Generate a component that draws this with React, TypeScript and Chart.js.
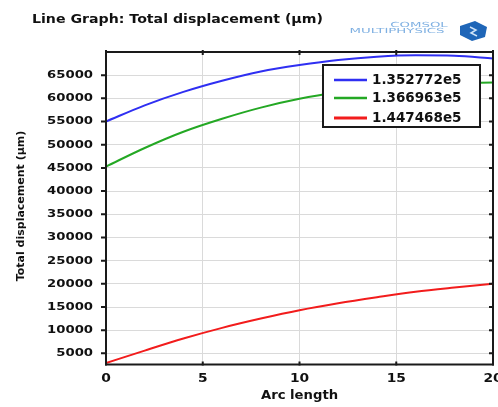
import React, { useEffect, useRef } from 'react';
import { Chart, registerables } from 'chart.js';

Chart.register(...registerables);

const arcLength = [0, 2, 4, 6, 8, 10, 12, 14, 16, 18, 20];
const series1 = [55000, 58500, 61400, 63800, 65800, 67200, 68300, 69000, 69300, 69200, 68600];
const series2 = [45300, 49300, 52800, 55600, 58000, 59900, 61300, 62300, 62900, 63300, 63400];
const series3 = [2900, 5600, 8200, 10500, 12500, 14300, 15800, 17100, 18300, 19200, 20000];
const seriesLabels = ['1.352772e5', '1.366963e5', '1.447468e5'];
const seriesColors = ['#2f2ff2', '#24a824', '#f21c1c'];
const yTicks = [5000, 10000, 15000, 20000, 25000, 30000, 35000, 40000, 45000, 50000, 55000, 60000, 65000];
const xTicks = [0, 5, 10, 15, 20];
const titleText = 'Line Graph: Total displacement (µm)';
const xTitle = 'Arc length';
const yTitle = 'Total displacement (µm)';
const logoTop = 'COMSOL';
const logoBottom = 'MULTIPHYSICS';

const FONT = '"DejaVu Sans", Verdana, sans-serif';

function drawText(
  ctx: CanvasRenderingContext2D,
  text: string,
  x: number,
  y: number,
  opts: { size: number; bold?: boolean; align?: CanvasTextAlign; sx?: number; color?: string; rot?: number }
) {
  ctx.save();
  ctx.translate(x, y);
  if (opts.rot) ctx.rotate(opts.rot);
  ctx.scale(opts.sx ?? 1, 1);
  ctx.font = `${opts.bold ? 'bold ' : ''}${opts.size}px ${FONT}`;
  ctx.textAlign = opts.align ?? 'left';
  ctx.textBaseline = 'middle';
  ctx.fillStyle = opts.color ?? '#111';
  ctx.fillText(text, 0, 0);
  ctx.restore();
}

const decorPlugin = {
  id: 'decor',
  beforeDraw(chart: any) {
    const ctx = chart.ctx as CanvasRenderingContext2D;
    ctx.save();
    ctx.fillStyle = '#ffffff';
    ctx.fillRect(0, 0, chart.width, chart.height);
    ctx.restore();
  },
  afterDraw(chart: any) {
    const ctx = chart.ctx as CanvasRenderingContext2D;
    const a = chart.chartArea;
    const xs = chart.scales.x;
    const ys = chart.scales.y;

    // frame
    ctx.save();
    ctx.strokeStyle = '#1a1a1a';
    ctx.lineWidth = 2;
    ctx.strokeRect(a.left, a.top, a.right - a.left, a.bottom - a.top);

    // ticks
    ctx.lineWidth = 2;
    ctx.beginPath();
    yTicks.forEach((v) => {
      const py = ys.getPixelForValue(v);
      ctx.moveTo(a.left - 5, py);
      ctx.lineTo(a.left, py);
      ctx.moveTo(a.right - 4, py);
      ctx.lineTo(a.right + 1, py);
    });
    xTicks.forEach((v) => {
      const px = xs.getPixelForValue(v);
      ctx.moveTo(px, a.top - 2);
      ctx.lineTo(px, a.top + 3);
      ctx.moveTo(px, a.bottom - 3);
      ctx.lineTo(px, a.bottom + 1);
    });
    ctx.stroke();
    ctx.restore();

    // tick labels
    yTicks.forEach((v) => {
      drawText(ctx, String(v), a.left - 13, ys.getPixelForValue(v), { size: 11, bold: true, align: 'right', sx: 1.2 });
    });
    xTicks.forEach((v) => {
      drawText(ctx, String(v), xs.getPixelForValue(v), a.bottom + 14, { size: 12, bold: true, align: 'center', sx: 1.15 });
    });

    // axis titles
    drawText(ctx, xTitle, (a.left + a.right) / 2, 396, { size: 12, bold: true, align: 'center', sx: 1.1 });
    drawText(ctx, yTitle, 21, 206, { size: 11, bold: true, align: 'center', rot: -Math.PI / 2 });

    // title
    drawText(ctx, titleText, 32, 20, { size: 11.5, bold: true, align: 'left', sx: 1.23 });

    // logo
    drawText(ctx, logoTop, 419, 25, { size: 7, align: 'center', sx: 1.9, color: '#7fb0e2' });
    drawText(ctx, logoBottom, 397, 31, { size: 7, align: 'center', sx: 1.9, color: '#7fb0e2' });
    ctx.save();
    ctx.fillStyle = '#1f66b8';
    ctx.beginPath();
    ctx.moveTo(460, 26);
    ctx.lineTo(475, 21);
    ctx.lineTo(487, 27);
    ctx.lineTo(485, 37);
    ctx.lineTo(472, 41);
    ctx.lineTo(460, 35);
    ctx.closePath();
    ctx.fill();
    ctx.strokeStyle = '#cfe3f7';
    ctx.lineWidth = 1.5;
    ctx.beginPath();
    ctx.moveTo(470, 27);
    ctx.lineTo(476, 30);
    ctx.lineTo(471, 33);
    ctx.lineTo(477, 36);
    ctx.stroke();
    ctx.restore();

    // legend
    const lx = 323, ly = 65, lw = 157, lh = 62;
    ctx.save();
    ctx.fillStyle = '#ffffff';
    ctx.fillRect(lx, ly, lw, lh);
    ctx.strokeStyle = '#1a1a1a';
    ctx.lineWidth = 2;
    ctx.strokeRect(lx, ly, lw, lh);
    const rows = [80, 98, 118];
    seriesLabels.forEach((lab, i) => {
      ctx.strokeStyle = seriesColors[i];
      ctx.lineWidth = i === 2 ? 3 : 2.5;
      ctx.beginPath();
      ctx.moveTo(334, rows[i]);
      ctx.lineTo(367, rows[i]);
      ctx.stroke();
      drawText(ctx, lab, 372, rows[i], { size: 13.5, bold: true, align: 'left', sx: 1.0 });
    });
    ctx.restore();
  },
};

export default function App() {
  const ref = useRef<HTMLCanvasElement | null>(null);
  useEffect(() => {
    if (!ref.current) return;
    const mk = (vals: number[]) => arcLength.map((x, i) => ({ x, y: vals[i] }));
    const chart = new Chart(ref.current, {
      type: 'line',
      data: {
        datasets: [series1, series2, series3].map((vals, i) => ({
          label: seriesLabels[i],
          data: mk(vals),
          borderColor: seriesColors[i],
          borderWidth: 2,
          pointRadius: 0,
          cubicInterpolationMode: 'monotone' as const,
          fill: false,
        })),
      },
      options: {
        responsive: false,
        animation: false,
        events: [],
        layout: { padding: { top: 52, right: 5, left: 0, bottom: 0 } },
        plugins: { legend: { display: false }, title: { display: false }, tooltip: { enabled: false } },
        scales: {
          x: {
            type: 'linear',
            min: 0,
            max: 20,
            ticks: { display: false, stepSize: 5 },
            grid: { color: '#dadada', lineWidth: 1, drawTicks: false },
            border: { display: false },
            afterFit: (s: any) => { s.height = 42.5; },
          },
          y: {
            type: 'linear',
            min: 2600,
            max: 70000,
            ticks: { display: false, stepSize: 5000 },
            grid: { color: '#dadada', lineWidth: 1, drawTicks: false },
            border: { display: false },
            afterBuildTicks: (s: any) => { s.ticks = yTicks.map((v) => ({ value: v })); },
            afterFit: (s: any) => { s.width = 106; },
          },
        },
      },
      plugins: [decorPlugin],
    });
    return () => chart.destroy();
  }, []);
  return (
    <div style={{ position: 'absolute', left: 0, top: 0, width: 498, height: 407, background: '#fff' }}>
      <canvas ref={ref} width={498} height={407} style={{ display: 'block', width: 498, height: 407 }} />
    </div>
  );
}
